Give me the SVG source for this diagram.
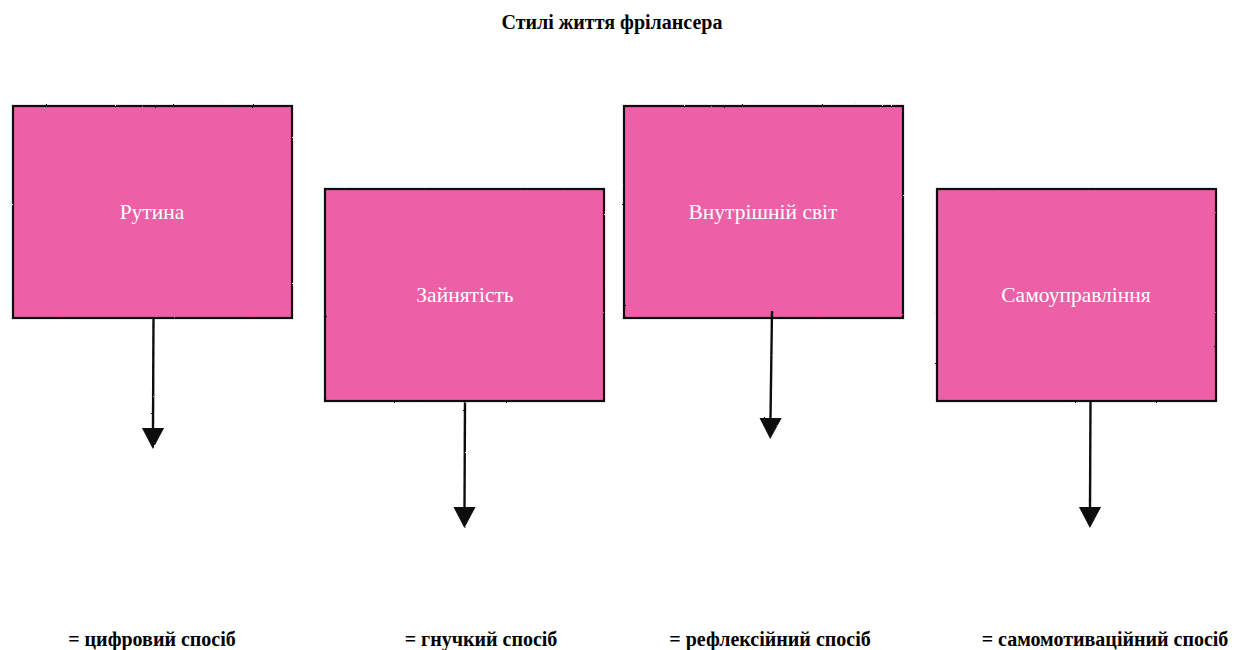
<svg xmlns="http://www.w3.org/2000/svg" width="1252" height="650" viewBox="0 0 1252 650">
  <defs>
    <filter id="rough" filterUnits="userSpaceOnUse" x="0" y="0" width="1252" height="650">
      <feTurbulence type="fractalNoise" baseFrequency="0.9" numOctaves="2" seed="3" result="n"/>
      <feDisplacementMap in="SourceGraphic" in2="n" scale="1.6" xChannelSelector="R" yChannelSelector="G"/>
    </filter>
    <marker id="arrow" markerUnits="userSpaceOnUse" markerWidth="22" markerHeight="24" refX="0" refY="0" viewBox="0 -11 21 22" orient="auto">
      <path d="M0,-10 L19,0 L0,10 Z" fill="#111" stroke="#111" stroke-width="1"/>
    </marker>
    <style>
      .box { fill: #ED5FA6; }
      .edge { fill: none; stroke: #111; stroke-width: 2.2; filter: url(#rough); }
      .lbl { font-family: "Liberation Serif", "Times New Roman", serif; font-size: 21.5px; fill: #ffffff; text-anchor: middle; }
      .title { font-family: "Liberation Serif", "Times New Roman", serif; font-size: 20px; font-weight: bold; fill: #000; text-anchor: middle; }
      .foot { font-family: "Liberation Serif", "Times New Roman", serif; font-size: 20px; font-weight: bold; fill: #000; text-anchor: middle; }
      .conn { stroke: #111; stroke-width: 2.4; fill: none; marker-end: url(#arrow); }
    </style>
  </defs>
  <rect width="1252" height="650" fill="#ffffff"/>

  <text class="title" x="612" y="29">Стилі життя фрілансера</text>

  <g id="node-rutyna">
    <rect class="box" x="13" y="106" width="279" height="212"/>
    <rect class="edge" x="13" y="106" width="279" height="212"/>
    <text class="lbl" x="152" y="219">Рутина</text>
  </g>
  <g id="node-zainiatist">
    <rect class="box" x="325" y="189" width="279" height="212"/>
    <rect class="edge" x="325" y="189" width="279" height="212"/>
    <text class="lbl" x="465" y="302">Зайнятість</text>
  </g>
  <g id="node-vnutrishnii">
    <rect class="box" x="624" y="106" width="279" height="212"/>
    <rect class="edge" x="624" y="106" width="279" height="212"/>
    <text class="lbl" x="763" y="219">Внутрішній світ</text>
  </g>
  <g id="node-samoupravlinnia">
    <rect class="box" x="937" y="189" width="279" height="212"/>
    <rect class="edge" x="937" y="189" width="279" height="212"/>
    <text class="lbl" x="1076" y="302">Самоуправління</text>
  </g>

  <g id="connectors" filter="url(#rough)">
    <line class="conn" x1="153.5" y1="319" x2="153" y2="428"/>
    <line class="conn" x1="465" y1="402" x2="464.5" y2="507"/>
    <line class="conn" x1="772" y1="311" x2="770.5" y2="418"/>
    <line class="conn" x1="1090.5" y1="402" x2="1090" y2="507"/>
  </g>

  <g id="footnotes">
    <text class="foot" x="152" y="646">= цифровий спосіб</text>
    <text class="foot" x="481" y="646">= гнучкий спосіб</text>
    <text class="foot" x="770" y="646">= рефлексійний спосіб</text>
    <text class="foot" x="1105" y="646">= самомотиваційний спосіб</text>
  </g>
</svg>
